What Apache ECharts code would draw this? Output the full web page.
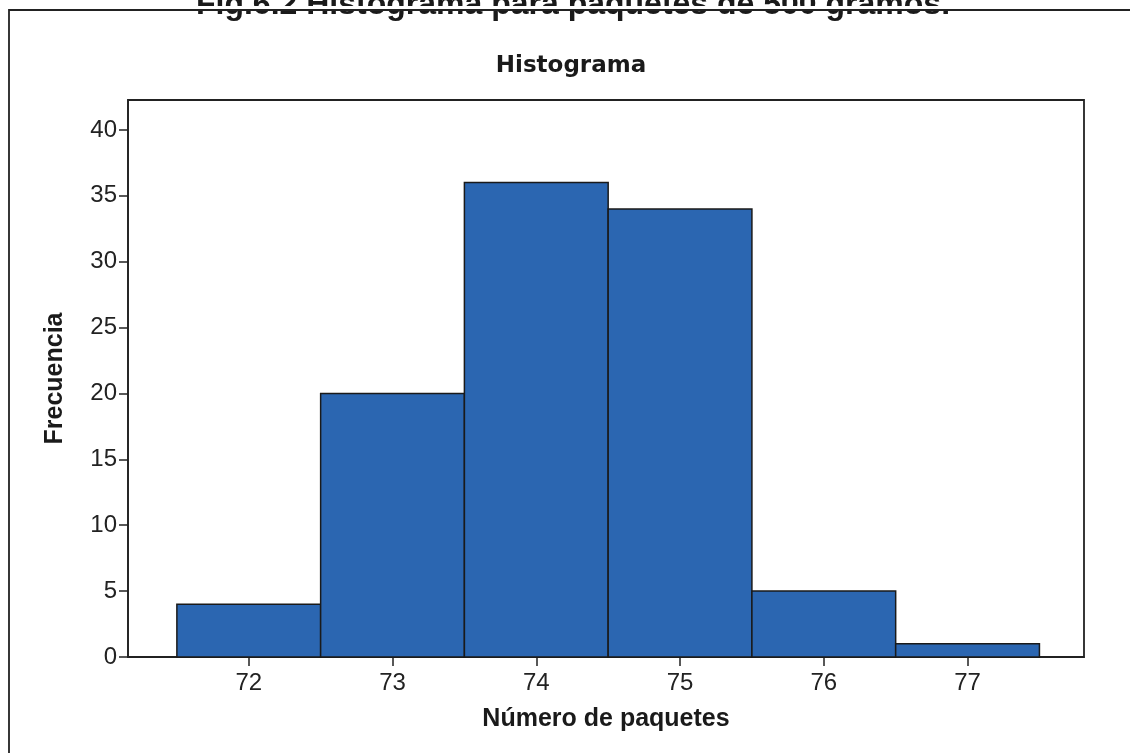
<!DOCTYPE html>
<html>
<head>
<meta charset="utf-8">
<script src="https://cdn.jsdelivr.net/npm/echarts@6/dist/echarts.min.js"></script>
<style>
  html, body { margin: 0; padding: 0; background: #fff; }
  #chart { width: 1130px; height: 753px; }
</style>
</head>
<body>
<div id="chart"></div>
<script>
// bin centres (paquetes) and their counts
var bins = [72, 73, 74, 75, 76, 77];
var counts = [4, 20, 36, 34, 5, 1];
var yTicks = [0, 5, 10, 15, 20, 25, 30, 35, 40];

var data = [];
for (var i = 0; i < bins.length; i++) {
    data.push([bins[i] - 0.5, bins[i] + 0.5, counts[i]]);
}

var sans = '"Liberation Sans", Arial, sans-serif';

var option = {
    animation: false,
    backgroundColor: '#fff',
    title: {
        text: 'Histograma',
        left: 566,
        top: 50,
        textAlign: 'center',
        textStyle: { fontFamily: '"DejaVu Sans", sans-serif', fontSize: 23, fontWeight: 'bold', color: '#1a1a1a' }
    },
    graphic: [
        {
            type: 'text',
            x: 573, y: 5,
            z: 10,
            style: {
                text: 'Fig.6.2 Histograma para paquetes de 500 gramos.',
                font: 'bold 32px "Liberation Sans", Arial, sans-serif',
                fill: '#1a1a1a',
                textAlign: 'center',
                textVerticalAlign: 'middle'
            }
        },
        {
            // page crop: the figure box sits over the caption's lower part
            type: 'rect',
            z: 11,
            shape: { x: 0, y: 6, width: 1130, height: 5 },
            style: { fill: '#fff' }
        },
        {
            type: 'polyline',
            z: 12,
            shape: { points: [[9, 753], [9, 10], [1130, 10]] },
            style: { stroke: '#222', lineWidth: 1.8, fill: null }
        }
    ],
    grid: {
        left: 128, right: 46, top: 100, bottom: 96,
        show: true, borderColor: '#222', borderWidth: 1.8, backgroundColor: '#fff'
    },
    xAxis: {
        type: 'value',
        min: 71.16,
        max: 77.81,
        name: 'Número de paquetes',
        nameLocation: 'middle',
        nameGap: 50,
        nameTextStyle: { fontFamily: sans, fontSize: 25, fontWeight: 'bold', color: '#1a1a1a' },
        splitLine: { show: false },
        axisLine: { show: true, onZero: false, lineStyle: { color: '#222', width: 1.5 } },
        axisTick: { show: true, customValues: bins, length: 9, lineStyle: { color: '#222', width: 1.5 } },
        axisLabel: { customValues: bins, margin: 14, fontFamily: sans, fontSize: 24, color: '#222' }
    },
    yAxis: {
        type: 'value',
        min: 0,
        max: 42.27,
        name: 'Frecuencia',
        nameLocation: 'middle',
        nameGap: 60,
        nameRotate: 90,
        nameTextStyle: { fontFamily: sans, fontSize: 25, fontWeight: 'bold', color: '#1a1a1a' },
        splitLine: { show: false },
        axisLine: { show: true, lineStyle: { color: '#222', width: 1.5 } },
        axisTick: { show: true, customValues: yTicks, length: 9, lineStyle: { color: '#222', width: 1.5 } },
        axisLabel: { customValues: yTicks, margin: 11, fontFamily: sans, fontSize: 24, color: '#222' }
    },
    series: [{
        type: 'custom',
        data: data,
        renderItem: function (params, api) {
            var p0 = api.coord([api.value(0), api.value(2)]);
            var p1 = api.coord([api.value(1), 0]);
            return {
                type: 'rect',
                shape: { x: p0[0], y: p0[1], width: p1[0] - p0[0], height: p1[1] - p0[1] },
                style: { fill: '#2b66b1', stroke: '#1a1a1a', lineWidth: 1.5 }
            };
        }
    }]
};

var myChart = echarts.init(document.getElementById('chart'));
myChart.setOption(option);
</script>
</body>
</html>
